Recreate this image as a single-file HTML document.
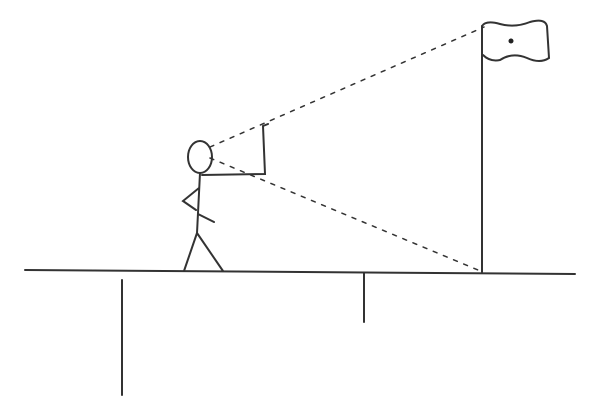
<!DOCTYPE html>
<html><head><meta charset="utf-8"><style>html,body{margin:0;padding:0;background:#fff}svg{display:block}</style></head>
<body>
<svg width="594" height="405" viewBox="0 0 594 405" fill="none" stroke="#333" stroke-width="2" stroke-linecap="round">
<line x1="25" y1="270" x2="575" y2="274"/>
<line x1="122" y1="280" x2="122" y2="395"/>
<line x1="364" y1="273" x2="364" y2="322"/>
<line x1="482" y1="26" x2="482" y2="272"/>
<path d="M482 26 Q486 20 500 24 Q515 28 530 22 Q545 18 547 26 L549 58 Q540 64 527 58 Q512 52 500 60 Q490 62 483 55"/>
<circle cx="511" cy="41" r="2.5" fill="#222" stroke="none"/>
<ellipse cx="200" cy="157" rx="12" ry="16"/>
<path d="M200 173 L197 233 M197 233 L184 271 M197 233 L223 271 M199 188 L183 201 L196 210 M198 214 L214 222"/>
<path d="M202 175 L265 174 L263 126 L268 124"/>
<g stroke-dasharray="4 7" stroke-width="1.5">
<line x1="210" y1="147" x2="484" y2="27"/>
<line x1="210" y1="158" x2="478" y2="270"/>
</g>
</svg>
</body></html>
